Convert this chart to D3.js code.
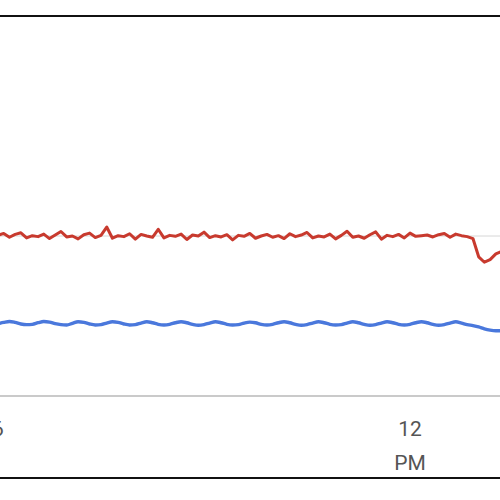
<!DOCTYPE html>
<html>
<head>
<meta charset="utf-8">
<script src="https://cdn.jsdelivr.net/npm/d3@7"></script>
<style>
  body { margin: 0; background: #fff; }
  svg { display: block; }
</style>
</head>
<body>
<svg id="chart" width="500" height="500"></svg>
<script>
// readings every 5 minutes starting 6:00
const startTime = new Date(2020, 0, 1, 6, 0);
const stepMinutes = 5;

const redValues = [
  50.2,50.8,49.6,50.5,51.0,49.4,50.1,49.8,50.6,49.2,
  50.3,51.4,49.7,50.0,49.1,50.4,50.9,49.5,50.2,52.8,
  49.3,50.1,49.8,50.7,49.0,50.5,50.0,49.6,52.1,49.4,
  50.2,49.9,50.6,48.9,50.3,50.0,51.2,49.5,50.1,49.7,
  50.4,48.8,50.2,49.9,50.8,49.3,50.0,50.5,49.6,50.1,
  49.2,50.7,49.8,50.3,51.1,49.4,50.0,49.7,50.6,49.1,
  50.2,51.5,49.6,50.0,49.3,50.4,51.3,49.0,50.2,49.8,
  50.5,49.4,50.9,49.9,50.1,50.3,49.7,50.4,50.8,49.6,
  50.6,50.1,49.8,49.2,43.5,41.8,42.6,44.4,45.2
];

const blueValues = [
  22.6,23.0,23.3,23.0,22.5,22.3,22.4,22.9,23.3,23.1,
  22.6,22.3,22.2,22.7,23.2,23.0,22.5,22.2,22.3,22.8,
  23.2,23.0,22.5,22.2,22.3,22.8,23.2,22.9,22.4,22.2,
  22.4,22.9,23.2,22.9,22.4,22.1,22.3,22.8,23.2,22.9,
  22.4,22.2,22.3,22.8,23.1,22.9,22.4,22.2,22.4,22.9,
  23.2,22.9,22.4,22.1,22.3,22.8,23.2,22.9,22.4,22.2,
  22.3,22.8,23.2,22.9,22.4,22.1,22.3,22.8,23.2,22.9,
  22.4,22.2,22.4,22.9,23.2,22.9,22.4,22.1,22.3,22.8,
  23.2,22.8,22.3,22.0,21.6,21.0,20.6,20.4,20.4
];

const gridValues = [50];
const tickTimes = [new Date(2020, 0, 1, 6, 0), new Date(2020, 0, 1, 12, 0)];
const tickLabels = [["6", ""], ["12", "PM"]];

const svg = d3.select("#chart");

const x = d3.scaleTime()
  .domain([new Date(2020, 0, 1, 6, 0), new Date(2020, 0, 1, 12, 0)])
  .range([-2, 410]);

const y = d3.scaleLinear().domain([0, 50]).range([396, 236]);

const timeAt = i => new Date(startTime.getTime() + i * stepMinutes * 60000);

// frame lines
svg.append("line").attr("x1", 0).attr("x2", 500).attr("y1", 16).attr("y2", 16)
  .attr("stroke", "#111").attr("stroke-width", 2.2);
svg.append("line").attr("x1", 0).attr("x2", 500).attr("y1", 478).attr("y2", 478)
  .attr("stroke", "#111").attr("stroke-width", 2.2);

// gridlines
svg.selectAll(".grid").data(gridValues).join("line")
  .attr("x1", 0).attr("x2", 500)
  .attr("y1", d => y(d)).attr("y2", d => y(d))
  .attr("stroke", "#d6d6d6").attr("stroke-width", 1);

svg.append("line").attr("x1", 0).attr("x2", 500).attr("y1", y(0)).attr("y2", y(0))
  .attr("stroke", "#b8b8b8").attr("stroke-width", 1.5);

const line = d3.line()
  .x((d, i) => x(timeAt(i)))
  .y(d => y(d));

svg.append("path").datum(redValues)
  .attr("fill", "none").attr("stroke", "#c83a2e")
  .attr("stroke-width", 3).attr("stroke-linejoin", "round")
  .attr("d", line);

svg.append("path").datum(blueValues)
  .attr("fill", "none").attr("stroke", "#4a78dc")
  .attr("stroke-width", 3.4).attr("stroke-linejoin", "round")
  .attr("d", line.curve(d3.curveMonotoneX));

// x tick labels
const ticks = svg.selectAll(".tick").data(tickTimes).join("text")
  .attr("x", d => x(d))
  .attr("text-anchor", "middle")
  .attr("font-family", "Roboto, sans-serif")
  .attr("font-size", 21)
  .attr("fill", "#555");
ticks.append("tspan").attr("x", d => x(d)).attr("y", 436).text((d, i) => tickLabels[i][0]);
ticks.append("tspan").attr("x", d => x(d)).attr("y", 470).text((d, i) => tickLabels[i][1]);
</script>
</body>
</html>
